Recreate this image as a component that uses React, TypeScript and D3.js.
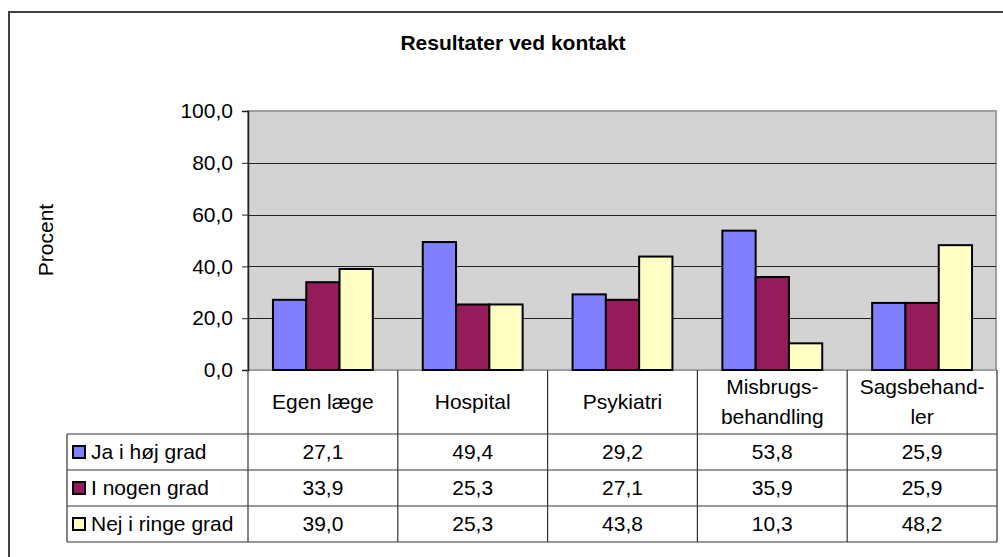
import React, { useEffect, useRef } from "react";
import * as d3 from "d3";

const categories = [
  ["Egen læge"],
  ["Hospital"],
  ["Psykiatri"],
  ["Misbrugs-", "behandling"],
  ["Sagsbehand-", "ler"]
];
const seriesNames = ["Ja i høj grad", "I nogen grad", "Nej i ringe grad"];
const jaHoej = [27.1, 49.4, 29.2, 53.8, 25.9];
const iNogen = [33.9, 25.3, 27.1, 35.9, 25.9];
const nejRinge = [39.0, 25.3, 43.8, 10.3, 48.2];
const yTicks = [0, 20, 40, 60, 80, 100];
const colors = ["#8080ff", "#951b5b", "#ffffc4"];

const W = 1003;
const H = 557;
const plot = { left: 248, right: 996, top: 111, bottom: 370 };
const table = { left: 67, right: 997, headBottom: 434, rowH: 36 };
const font = "'Liberation Sans', Arial, sans-serif";
const fs = 21;

const fmt = (v: number) => d3.format(".1f")(v).replace(".", ",");

const App = () => {
  const svgRef = useRef<SVGSVGElement>(null);

  useEffect(() => {
    const svg = d3.select(svgRef.current);
    svg.selectAll("*").remove();
    const series = [jaHoej, iNogen, nejRinge];

    const x = d3
      .scaleBand<number>()
      .domain(d3.range(categories.length))
      .range([plot.left, table.right]);
    const xInner = d3
      .scaleBand<number>()
      .domain(d3.range(series.length))
      .range([0, x.bandwidth()])
      .paddingInner(0)
      .paddingOuter(0.75);
    const y = d3
      .scaleLinear()
      .domain([0, 100])
      .range([plot.bottom, plot.top]);

    // outer chart border
    svg
      .append("rect")
      .attr("x", 9)
      .attr("y", 12)
      .attr("width", 1010)
      .attr("height", 600)
      .attr("fill", "white")
      .attr("stroke", "#404040")
      .attr("stroke-width", 2);

    svg
      .append("text")
      .attr("x", 513)
      .attr("y", 50)
      .attr("text-anchor", "middle")
      .attr("font-weight", "bold")
      .attr("font-size", fs)
      .text("Resultater ved kontakt");

    // plot area
    svg
      .append("rect")
      .attr("x", plot.left)
      .attr("y", plot.top)
      .attr("width", plot.right - plot.left)
      .attr("height", plot.bottom - plot.top)
      .attr("fill", "#d3d3d3")
      .attr("stroke", "#a0a0a0")
      .attr("stroke-width", 2);

    const g = svg.append("g");
    g.selectAll(".grid")
      .data(yTicks.filter(d => d > 0 && d < 100))
      .enter()
      .append("line")
      .attr("x1", plot.left)
      .attr("x2", plot.right)
      .attr("y1", d => Math.round(y(d)) + 0.5)
      .attr("y2", d => Math.round(y(d)) + 0.5)
      .attr("stroke", "#222");

    const yAxis = d3
      .axisLeft(y)
      .tickValues(yTicks)
      .tickSize(6)
      .tickPadding(9)
      .tickFormat(d => fmt(d as number));
    const ya = svg
      .append("g")
      .attr("transform", `translate(${plot.left},0)`)
      .call(yAxis);
    ya.select(".domain").attr("stroke", "#222").attr("stroke-width", 1.5);
    ya.selectAll("line").attr("stroke", "#222");
    ya.selectAll("text")
      .attr("font-size", fs)
      .attr("font-family", font)
      .attr("fill", "#000");

    svg
      .append("text")
      .attr("transform", "translate(53,240) rotate(-90)")
      .attr("text-anchor", "middle")
      .attr("font-size", fs)
      .text("Procent");

    // bars
    series.forEach((vals, s) => {
      svg
        .append("g")
        .selectAll("rect")
        .data(vals)
        .enter()
        .append("rect")
        .attr("x", (d, i) => (x(i) as number) + (xInner(s) as number))
        .attr("y", d => y(d))
        .attr("width", xInner.bandwidth())
        .attr("height", d => y(0) - y(d))
        .attr("fill", colors[s])
        .attr("stroke", "#000")
        .attr("stroke-width", 2);
    });

    // data table
    const tg = svg.append("g").attr("stroke", "#333").attr("stroke-width", 1.2);
    const tableBottom = table.headBottom + table.rowH * series.length;
    d3.range(categories.length + 1).forEach(i => {
      const xx = i < categories.length ? (x(i) as number) : table.right;
      tg.append("line")
        .attr("x1", xx)
        .attr("x2", xx)
        .attr("y1", plot.bottom)
        .attr("y2", tableBottom);
    });
    tg.append("line")
      .attr("x1", table.left)
      .attr("x2", table.left)
      .attr("y1", table.headBottom)
      .attr("y2", tableBottom);
    d3.range(series.length + 1).forEach(r => {
      const yy = table.headBottom + r * table.rowH;
      tg.append("line")
        .attr("x1", table.left)
        .attr("x2", table.right)
        .attr("y1", yy)
        .attr("y2", yy);
    });

    // category labels
    categories.forEach((lines, i) => {
      const cx = (x(i) as number) + x.bandwidth() / 2;
      const t = svg
        .append("text")
        .attr("text-anchor", "middle")
        .attr("font-size", fs);
      const startY = lines.length === 1 ? 409 : 394;
      lines.forEach((ln, k) => {
        t.append("tspan").attr("x", cx).attr("y", startY + k * 30).text(ln);
      });
    });

    // rows: legend key + values
    series.forEach((vals, s) => {
      const cy = table.headBottom + s * table.rowH + table.rowH / 2;
      svg
        .append("rect")
        .attr("x", 73)
        .attr("y", cy - 6)
        .attr("width", 12)
        .attr("height", 12)
        .attr("fill", colors[s])
        .attr("stroke", "#000")
        .attr("stroke-width", 2);
      svg
        .append("text")
        .attr("x", 91)
        .attr("y", cy + 7)
        .attr("font-size", fs)
        .text(seriesNames[s]);
      vals.forEach((v, i) => {
        svg
          .append("text")
          .attr("x", (x(i) as number) + x.bandwidth() / 2)
          .attr("y", cy + 7)
          .attr("text-anchor", "middle")
          .attr("font-size", fs)
          .text(fmt(v));
      });
    });
  }, []);

  return (
    <svg
      ref={svgRef}
      width={W}
      height={H}
      style={{ position: "absolute", left: 0, top: 0, fontFamily: font, background: "white" }}
    />
  );
};

export default App;
